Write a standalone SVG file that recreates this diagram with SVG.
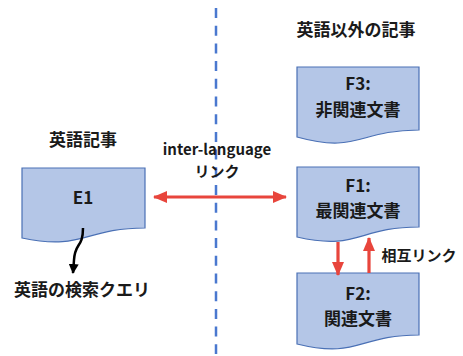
<svg xmlns="http://www.w3.org/2000/svg" width="463" height="356" viewBox="0 0 463 356">
  <style>
    .doc { fill: #B4C6E7; stroke: #4A70B5; stroke-width: 1.2; }
    .t { font-family: "Noto Sans CJK JP", "Noto Sans", sans-serif; font-weight: bold; fill: #1a1a1a; text-anchor: middle; }
    .big { font-size: 17px; }
    .mid { font-size: 15px; }
    .red { stroke: #E8453C; stroke-width: 3.2; fill: none; }
  </style>
  <defs>
    <marker id="rh" markerUnits="userSpaceOnUse" markerWidth="14" markerHeight="12" refX="13" refY="6" orient="auto-start-reverse" viewBox="0 0 14 12">
      <path d="M0,0 L14,6 L0,12 Z" fill="#E8453C"/>
    </marker>
    <marker id="bh" markerUnits="userSpaceOnUse" markerWidth="10" markerHeight="10" refX="9" refY="5" orient="auto" viewBox="0 0 10 10">
      <path d="M0,0 L10,5 L0,10 Z" fill="#000"/>
    </marker>
  </defs>

  <line x1="216" y1="8" x2="216" y2="354" stroke="#4A78CF" stroke-width="2.5" stroke-dasharray="10 7.7"/>

  <text class="t big" x="83" y="146">英語記事</text>
  <text class="t big" x="356" y="36">英語以外の記事</text>

  <g id="E1">
    <path class="doc" d="M22,168 H145 V228 C83.5,228 83.5,251 22,238 Z"/>
    <text class="t big" x="83" y="204">E1</text>
  </g>

  <g id="F3">
    <path class="doc" d="M297,67 H419 V130 C358,130 358,154 297,137 Z"/>
    <text class="t big" x="358" y="90">F3:</text>
    <text class="t big" x="358" y="116">非関連文書</text>
  </g>

  <g id="F1">
    <path class="doc" d="M297,167 H419 V227 C358,227 358,251 297,237 Z"/>
    <text class="t big" x="358" y="192">F1:</text>
    <text class="t big" x="358" y="217">最関連文書</text>
  </g>

  <g id="F2">
    <path class="doc" d="M297,273 H419 V335 C358,335 358,359 297,344 Z"/>
    <text class="t big" x="358" y="300">F2:</text>
    <text class="t big" x="358" y="325">関連文書</text>
  </g>

  <g id="connectors">
    <line class="red" x1="154" y1="197" x2="286" y2="197" marker-start="url(#rh)" marker-end="url(#rh)"/>
    <line class="red" x1="338" y1="242" x2="338" y2="275" marker-end="url(#rh)"/>
    <line class="red" x1="369" y1="273" x2="369" y2="238" marker-end="url(#rh)"/>
    <path d="M83,228 C83,248 75,242 74,260 L73,273" fill="none" stroke="#000" stroke-width="2.5" marker-end="url(#bh)"/>
  </g>

  <text class="t mid" x="217" y="155">inter-language</text>
  <text class="t mid" x="217" y="177">リンク</text>
  <text class="t mid" x="419" y="261">相互リンク</text>
  <text class="t big" x="82" y="296">英語の検索クエリ</text>
</svg>
